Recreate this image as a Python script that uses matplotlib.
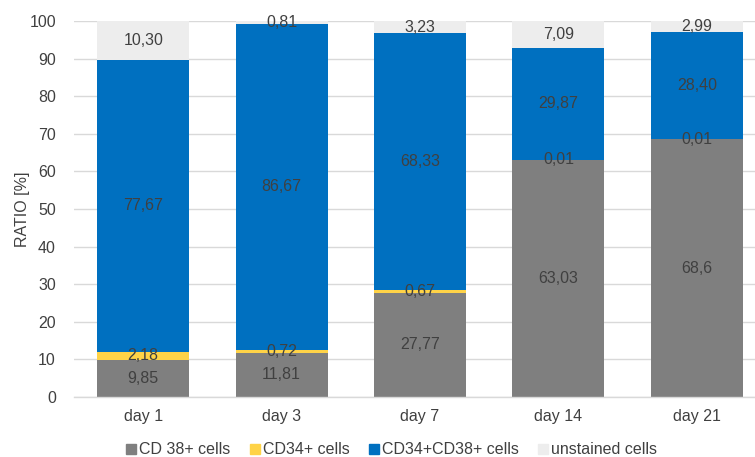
import matplotlib
matplotlib.use("Agg")
import matplotlib.pyplot as plt
from matplotlib.lines import Line2D

plt.rcParams['font.family'] = ['Liberation Sans', 'DejaVu Sans']

categories = ["day 1", "day 3", "day 7", "day 14", "day 21"]
series_names = ["CD 38+ cells", "CD34+ cells", "CD34+CD38+ cells", "unstained cells"]
cd38 = ["9,85", "11,81", "27,77", "63,03", "68,6"]
cd34 = ["2,18", "0,72", "0,67", "0,01", "0,01"]
cd34_cd38 = ["77,67", "86,67", "68,33", "29,87", "28,40"]
unstained = ["10,30", "0,81", "3,23", "7,09", "2,99"]
colors = ["#7F7F7F", "#FFD347", "#0070C0", "#EDEDED"]
y_ticks = [0, 10, 20, 30, 40, 50, 60, 70, 80, 90, 100]

text_color = "#404040"
grid_color = "#D9D9D9"
fs = 11.5

fig = plt.figure(figsize=(7.55, 4.57), dpi=100)
ax = fig.add_axes([74 / 755, 60 / 457, 692 / 755, 376 / 457])

x = list(range(len(categories)))
bottoms = [0.0] * len(categories)
for name, labels, color in zip(series_names, [cd38, cd34, cd34_cd38, unstained], colors):
    vals = [float(s.replace(",", ".")) for s in labels]
    ax.bar(x, vals, width=0.665, bottom=bottoms, color=color, zorder=2)
    for xi, v, b, s in zip(x, vals, bottoms, labels):
        ax.text(xi, b + v / 2, s, ha="center", va="center", fontsize=fs,
                color=text_color, zorder=3)
    bottoms = [b + v for b, v in zip(bottoms, vals)]

ax.set_xlim(-0.5, len(categories) - 0.5)
ax.set_ylim(0, 100)
ax.set_yticks(y_ticks)
ax.set_xticks(x)
ax.set_xticklabels(categories)
ax.tick_params(axis="both", length=0, labelsize=fs, labelcolor=text_color)
ax.tick_params(axis="x", pad=9)
ax.tick_params(axis="y", pad=13)
ax.yaxis.grid(True, color=grid_color, linewidth=1, zorder=0)
for side in ["left", "right", "top"]:
    ax.spines[side].set_visible(False)
ax.spines["bottom"].set_color(grid_color)
ax.spines["bottom"].set_linewidth(1)
ax.set_ylabel("RATIO [%]", fontsize=fs, color=text_color)
ax.yaxis.set_label_coords((30 - 74) / 692, 0.5)

handles = [Line2D([], [], marker="s", linestyle="none", markersize=7,
                  markerfacecolor=c, markeredgecolor=c) for c in colors]
fig.legend(handles, series_names, loc="center", bbox_to_anchor=(0.517, 7 / 457),
           ncol=4, frameon=False, fontsize=fs, labelcolor=text_color,
           handletextpad=0.05, columnspacing=1.07, handlelength=0.9)

fig.savefig("out.png", dpi=100)
